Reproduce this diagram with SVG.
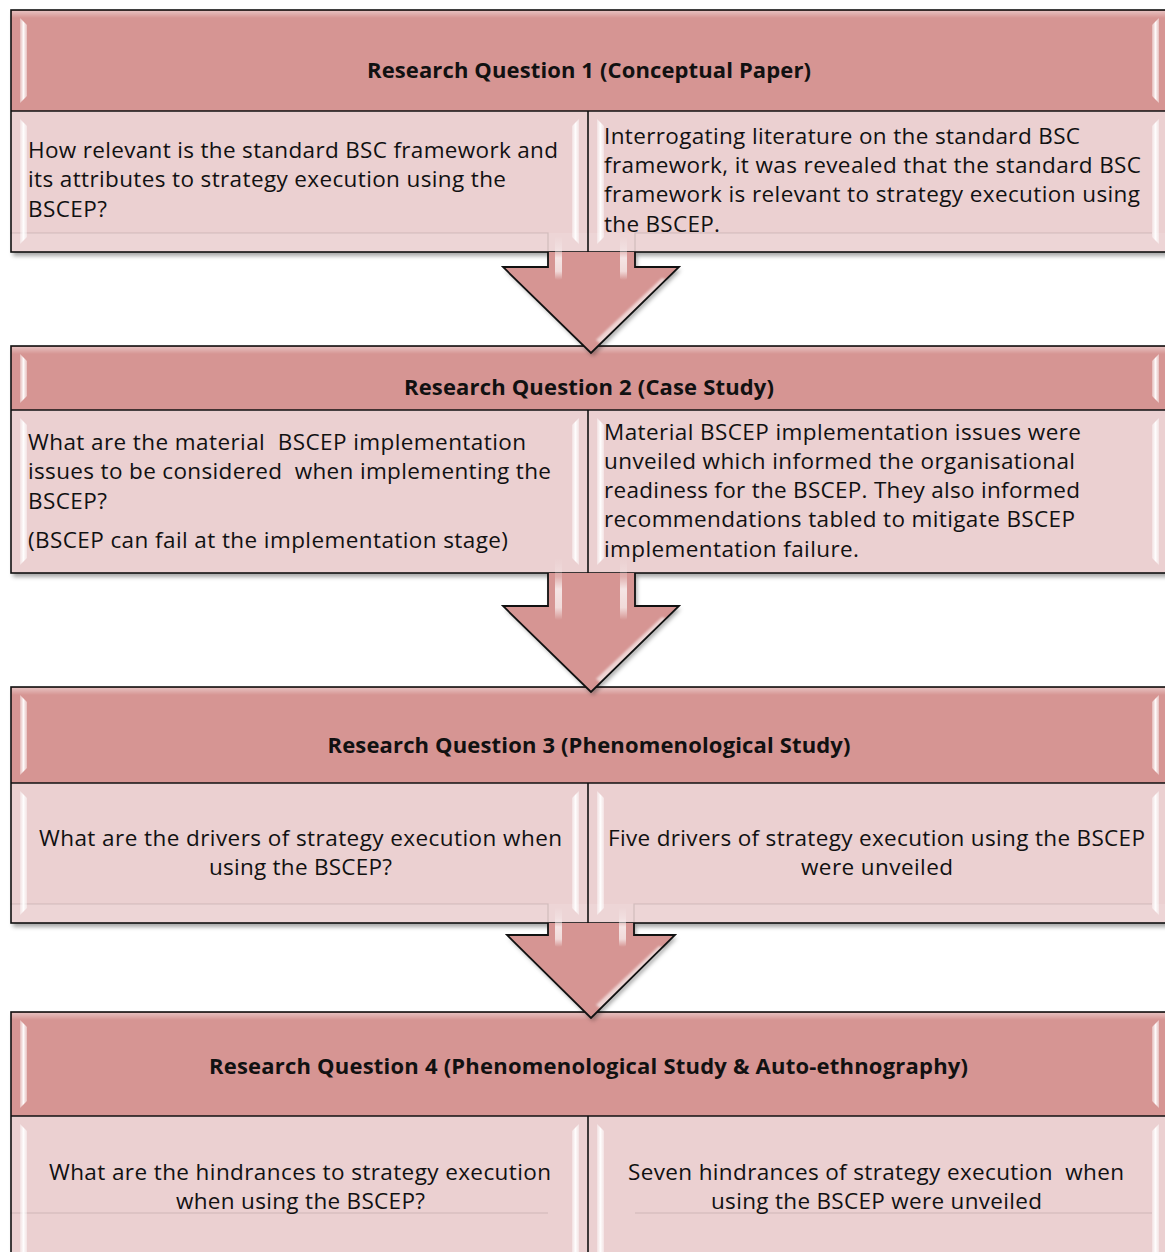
<svg xmlns="http://www.w3.org/2000/svg" width="1165" height="1252" viewBox="0 0 1165 1252">
  <defs>
    <style>
      .hdr { fill: #D69593; }
      .body { fill: #EBD0D1; }
      .edge { fill: none; stroke: #111; stroke-width: 1.6; }
      .strip { fill: url(#stripGrad); }
      .topHi { fill: url(#topGrad); }
      .band { fill: #ffffff; fill-opacity: 0.12; }
      .seam { fill: none; stroke: #000; stroke-opacity: 0.12; stroke-width: 1.2; }
      .shadow { fill: #000; fill-opacity: 0.35; filter: url(#soft); }
      text { white-space: pre; }
      .t { font-family: "Open Sans", Lato, sans-serif; font-size: 22.5px; fill: #111; }
      .h { font-family: "Open Sans", Lato, sans-serif; font-size: 22px; font-weight: bold; fill: #111; text-anchor: middle; }
      .c { text-anchor: middle; }
      .arrowFill { fill: #D69593; }
      .arrowEdge { fill: none; stroke: #111; stroke-width: 1.8; stroke-linejoin: miter; }
      .shaftHi { fill: url(#shaftGrad); }
      .headHi { fill: #ffffff; fill-opacity: 0.6; filter: url(#glow); }
    </style>
    <linearGradient id="stripGrad" x1="0" y1="0" x2="1" y2="0">
      <stop offset="0" stop-color="#fff" stop-opacity="0.35"/>
      <stop offset="0.5" stop-color="#fff" stop-opacity="0.95"/>
      <stop offset="1" stop-color="#fff" stop-opacity="0.4"/>
    </linearGradient>
    <linearGradient id="topGrad" x1="0" y1="0" x2="0" y2="1">
      <stop offset="0" stop-color="#fff" stop-opacity="0.4"/>
      <stop offset="1" stop-color="#fff" stop-opacity="0"/>
    </linearGradient>
    <linearGradient id="shaftGrad" x1="0" y1="0" x2="0" y2="1">
      <stop offset="0" stop-color="#fff" stop-opacity="0"/>
      <stop offset="0.3" stop-color="#fff" stop-opacity="0.25"/>
      <stop offset="0.5" stop-color="#fff" stop-opacity="0.75"/>
      <stop offset="0.8" stop-color="#fff" stop-opacity="0.65"/>
      <stop offset="1" stop-color="#fff" stop-opacity="0"/>
    </linearGradient>
    <filter id="soft" x="-5%" y="-20%" width="110%" height="140%">
      <feGaussianBlur stdDeviation="2.2"/>
    </filter>
    <filter id="glow" x="-20%" y="-20%" width="140%" height="140%">
      <feGaussianBlur stdDeviation="1"/>
    </filter>
  </defs>

  <rect width="1165" height="1252" fill="#fff"/>

  <!-- Research question 1 -->
  <g id="rq1">
    <rect class="shadow" x="13" y="13" width="1157" height="243"/>
    <rect class="hdr" x="11" y="10" width="1157" height="101"/>
    <rect class="topHi" x="12" y="11" width="1155" height="7"/>
    <polygon class="strip" points="20,18 27,25 27,96 20,103"/>
    <polygon class="strip" points="1159,18 1152,25 1152,96 1159,103"/>
    <rect class="body" x="11" y="111" width="577" height="141"/>
    <rect class="body" x="588" y="111" width="580" height="141"/>
    <rect class="band" x="12" y="233" width="1155" height="18"/>
    <polyline class="seam" points="10,233 548,233 548,252"/>
    <polyline class="seam" points="635,252 635,233 1152,233"/>
    <polygon class="strip" points="20,119 27,126 27,237 20,244"/>
    <polygon class="strip" points="579,119 572,126 572,237 579,244"/>
    <polygon class="strip" points="597,119 604,126 604,237 597,244"/>
    <polygon class="strip" points="1159,119 1152,126 1152,237 1159,244"/>
    <rect class="edge" x="11" y="10" width="1157" height="242"/>
    <line class="edge" x1="11" y1="111" x2="1168" y2="111"/>
    <line class="edge" x1="588" y1="111" x2="588" y2="252"/>
    <text class="h" x="589" y="78" textLength="444">Research Question 1 (Conceptual Paper)</text>
    <text class="t" x="28" y="158" textLength="530">How relevant is the standard BSC framework and</text>
    <text class="t" x="28" y="187.3" textLength="478">its attributes to strategy execution using the</text>
    <text class="t" x="28" y="216.6" textLength="79">BSCEP?</text>
    <text class="t" x="604" y="143.6" textLength="476">Interrogating literature on the standard BSC</text>
    <text class="t" x="604" y="172.9" textLength="537">framework, it was revealed that the standard BSC</text>
    <text class="t" x="604" y="202.2" textLength="536">framework is relevant to strategy execution using</text>
    <text class="t" x="604" y="231.5" textLength="116">the BSCEP.</text>
  </g>

  <!-- Research question 2 -->
  <g id="rq2">
    <rect class="shadow" x="13" y="349" width="1157" height="228"/>
    <rect class="hdr" x="11" y="346" width="1157" height="64"/>
    <rect class="topHi" x="12" y="347" width="1155" height="7"/>
    <polygon class="strip" points="20,354 27,361 27,396 20,403"/>
    <polygon class="strip" points="1159,354 1152,361 1152,396 1159,403"/>
    <rect class="body" x="11" y="410" width="577" height="163"/>
    <rect class="body" x="588" y="410" width="580" height="163"/>
    <polygon class="strip" points="20,418 27,425 27,558 20,565"/>
    <polygon class="strip" points="579,418 572,425 572,558 579,565"/>
    <polygon class="strip" points="597,418 604,425 604,558 597,565"/>
    <polygon class="strip" points="1159,418 1152,425 1152,558 1159,565"/>
    <rect class="edge" x="11" y="346" width="1157" height="227"/>
    <line class="edge" x1="11" y1="410" x2="1168" y2="410"/>
    <line class="edge" x1="588" y1="410" x2="588" y2="573"/>
    <text class="h" x="589" y="395" textLength="370">Research Question 2 (Case Study)</text>
    <text class="t" x="28" y="450" textLength="498">What are the material  BSCEP implementation</text>
    <text class="t" x="28" y="479.3" textLength="523">issues to be considered  when implementing the</text>
    <text class="t" x="28" y="508.6" textLength="79">BSCEP?</text>
    <text class="t" x="28" y="548" textLength="480">(BSCEP can fail at the implementation stage)</text>
    <text class="t" x="604" y="439.5" textLength="477">Material BSCEP implementation issues were</text>
    <text class="t" x="604" y="468.8" textLength="471">unveiled which informed the organisational</text>
    <text class="t" x="604" y="498.1" textLength="476">readiness for the BSCEP. They also informed</text>
    <text class="t" x="604" y="527.4" textLength="471">recommendations tabled to mitigate BSCEP</text>
    <text class="t" x="604" y="556.7" textLength="255">implementation failure.</text>
  </g>

  <!-- Research question 3 -->
  <g id="rq3">
    <rect class="shadow" x="13" y="690" width="1157" height="237"/>
    <rect class="hdr" x="11" y="687" width="1157" height="96"/>
    <rect class="topHi" x="12" y="688" width="1155" height="7"/>
    <polygon class="strip" points="20,695 27,702 27,768 20,775"/>
    <polygon class="strip" points="1159,695 1152,702 1152,768 1159,775"/>
    <rect class="body" x="11" y="783" width="577" height="140"/>
    <rect class="body" x="588" y="783" width="580" height="140"/>
    <rect class="band" x="12" y="904" width="1155" height="18"/>
    <polyline class="seam" points="10,904 548,904 548,923"/>
    <polyline class="seam" points="634,923 634,904 1152,904"/>
    <polygon class="strip" points="20,791 27,798 27,908 20,915"/>
    <polygon class="strip" points="579,791 572,798 572,908 579,915"/>
    <polygon class="strip" points="597,791 604,798 604,908 597,915"/>
    <polygon class="strip" points="1159,791 1152,798 1152,908 1159,915"/>
    <rect class="edge" x="11" y="687" width="1157" height="236"/>
    <line class="edge" x1="11" y1="783" x2="1168" y2="783"/>
    <line class="edge" x1="588" y1="783" x2="588" y2="923"/>
    <text class="h" x="589" y="753" textLength="523">Research Question 3 (Phenomenological Study)</text>
    <text class="t c" x="300.5" y="846" textLength="523">What are the drivers of strategy execution when</text>
    <text class="t c" x="300.5" y="875.3" textLength="183">using the BSCEP?</text>
    <text class="t c" x="876.5" y="846" textLength="537">Five drivers of strategy execution using the BSCEP</text>
    <text class="t c" x="877" y="875.3" textLength="152">were unveiled</text>
  </g>

  <!-- Research question 4 -->
  <g id="rq4">
    <rect class="shadow" x="13" y="1015" width="1157" height="250"/>
    <rect class="hdr" x="11" y="1012" width="1157" height="104"/>
    <rect class="topHi" x="12" y="1013" width="1155" height="7"/>
    <polygon class="strip" points="20,1020 27,1027 27,1101 20,1108"/>
    <polygon class="strip" points="1159,1020 1152,1027 1152,1101 1159,1108"/>
    <rect class="body" x="11" y="1116" width="577" height="146"/>
    <rect class="body" x="588" y="1116" width="580" height="146"/>
    <polyline class="seam" points="10,1213 548,1213"/>
    <polyline class="seam" points="635,1213 1152,1213"/>
    <polygon class="strip" points="20,1124 27,1131 27,1262 20,1262"/>
    <polygon class="strip" points="579,1124 572,1131 572,1262 579,1262"/>
    <polygon class="strip" points="597,1124 604,1131 604,1262 597,1262"/>
    <polygon class="strip" points="1159,1124 1152,1131 1152,1262 1159,1262"/>
    <rect class="edge" x="11" y="1012" width="1157" height="250"/>
    <line class="edge" x1="11" y1="1116" x2="1168" y2="1116"/>
    <line class="edge" x1="588" y1="1116" x2="588" y2="1262"/>
    <text class="h" x="588.5" y="1074" textLength="759">Research Question 4 (Phenomenological Study &amp; Auto-ethnography)</text>
    <text class="t c" x="300" y="1180" textLength="502">What are the hindrances to strategy execution</text>
    <text class="t c" x="300.5" y="1209.3" textLength="249">when using the BSCEP?</text>
    <text class="t c" x="876" y="1180" textLength="496">Seven hindrances of strategy execution  when</text>
    <text class="t c" x="876.5" y="1209.3" textLength="331">using the BSCEP were unveiled</text>
  </g>

  <!-- Down arrows linking the questions -->
  <g id="connectors">
    <g id="arrow1">
      <polygon class="shadow" points="550,255 550,270 505,270 593,356 681,270 637,270 637,255"/>
      <polygon class="arrowFill" points="548,252 548,267 503,267 591,353 679,267 635,267 635,252"/>
      <rect class="shaftHi" x="555" y="236" width="7" height="44" rx="2"/>
      <rect class="shaftHi" x="620" y="236" width="7" height="44" rx="2"/>
      <polygon class="headHi" points="662,278 667,280 601,344 596,340"/>
      <polyline class="arrowEdge" points="548,252 548,267 503,267 591,353 679,267 635,267 635,252"/>
    </g>
    <g id="arrow2">
      <polygon class="shadow" points="550,576 550,609 505,609 593,695 681,609 637,609 637,576"/>
      <polygon class="arrowFill" points="548,573 548,606 503,606 591,692 679,606 635,606 635,573"/>
      <rect class="shaftHi" x="555" y="558" width="7" height="62" rx="2"/>
      <rect class="shaftHi" x="620" y="558" width="7" height="62" rx="2"/>
      <polygon class="headHi" points="662,617 667,619 601,683 596,679"/>
      <polyline class="arrowEdge" points="548,573 548,606 503,606 591,692 679,606 635,606 635,573"/>
    </g>
    <g id="arrow3">
      <polygon class="shadow" points="550,926 550,938 509,938 593,1021 677,938 636,938 636,926"/>
      <polygon class="arrowFill" points="548,923 548,935 507,935 591,1018 675,935 634,935 634,923"/>
      <rect class="shaftHi" x="555" y="907" width="7" height="40" rx="2"/>
      <rect class="shaftHi" x="619" y="907" width="7" height="40" rx="2"/>
      <polygon class="headHi" points="659,946 664,948 601,1009 596,1005"/>
      <polyline class="arrowEdge" points="548,923 548,935 507,935 591,1018 675,935 634,935 634,923"/>
    </g>
  </g>
</svg>
